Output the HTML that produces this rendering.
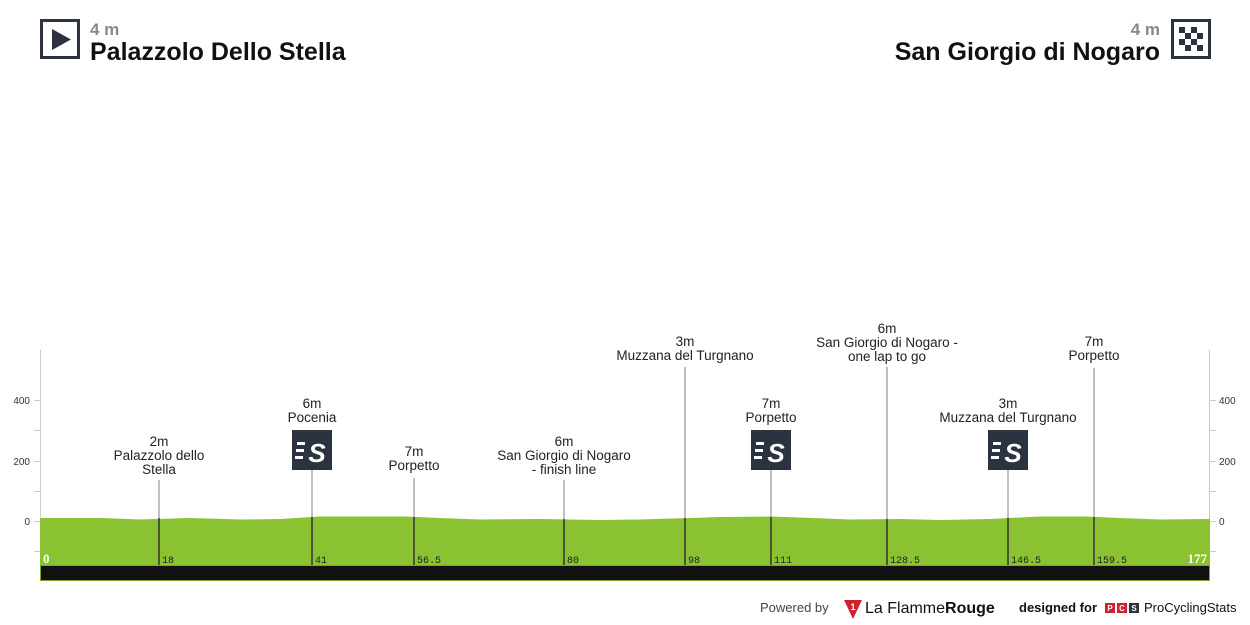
<!DOCTYPE html>
<html><head><meta charset="utf-8"><style>
html,body{margin:0;padding:0;background:#fff;width:1250px;height:625px;overflow:hidden}
svg{display:block;font-family:"Liberation Sans",Arial,sans-serif}
</style></head><body>
<svg width="1250" height="625" viewBox="0 0 1250 625">
<rect x="41.5" y="20.5" width="37" height="37" fill="#fff" stroke="#2b3340" stroke-width="3"/>
<polygon points="52,29 52,50 71,39.5" fill="#2b3340"/>
<text x="90" y="35" font-size="17" font-weight="bold" fill="#888">4 m</text>
<text x="90" y="60" font-size="25" font-weight="bold" fill="#111">Palazzolo Dello Stella</text>
<text x="1160" y="35" font-size="17" font-weight="bold" fill="#888" text-anchor="end">4 m</text>
<text x="1160" y="60" font-size="25" font-weight="bold" fill="#111" text-anchor="end">San Giorgio di Nogaro</text>
<rect x="1172.5" y="20.5" width="37" height="37" fill="#fff" stroke="#2b3340" stroke-width="3"/>
<g fill="#2b3340">
<rect x="1179" y="27" width="6" height="6"/><rect x="1191" y="27" width="6" height="6"/>
<rect x="1185" y="33" width="6" height="6"/><rect x="1197" y="33" width="6" height="6"/>
<rect x="1179" y="39" width="6" height="6"/><rect x="1191" y="39" width="6" height="6"/>
<rect x="1185" y="45" width="6" height="6"/><rect x="1197" y="45" width="6" height="6"/>
</g>
<g stroke="#ccc" stroke-width="1">
<line x1="40.5" y1="350" x2="40.5" y2="565"/>
<line x1="1209.5" y1="350" x2="1209.5" y2="565"/>
<line x1="34" y1="400.5" x2="40" y2="400.5"/><line x1="34" y1="430.5" x2="40" y2="430.5"/>
<line x1="34" y1="461.5" x2="40" y2="461.5"/><line x1="34" y1="491.5" x2="40" y2="491.5"/>
<line x1="34" y1="521.5" x2="40" y2="521.5"/><line x1="34" y1="551.5" x2="40" y2="551.5"/>
<line x1="1210" y1="400.5" x2="1216" y2="400.5"/><line x1="1210" y1="430.5" x2="1216" y2="430.5"/>
<line x1="1210" y1="461.5" x2="1216" y2="461.5"/><line x1="1210" y1="491.5" x2="1216" y2="491.5"/>
<line x1="1210" y1="521.5" x2="1216" y2="521.5"/><line x1="1210" y1="551.5" x2="1216" y2="551.5"/>
</g>
<g font-size="10" fill="#333">
<text x="30" y="404" text-anchor="end">400</text><text x="30" y="465" text-anchor="end">200</text><text x="30" y="525" text-anchor="end">0</text>
<text x="1219" y="404">400</text><text x="1219" y="465">200</text><text x="1219" y="525">0</text>
</g>
<path d="M40,518 L100,518 L140,519.5 L190,518 L240,519.5 L280,519 L320,516.5 L405,516.5 L440,518 L480,519.5 L540,519 L600,520 L640,519.5 L690,518 L720,517 L770,516.5 L800,517.5 L850,519.5 L900,519 L940,520 L990,519 L1040,516.5 L1085,516.5 L1120,518 L1160,519.5 L1210,519 L1210,565 L40,565 Z" fill="#8bc232"/>
<rect x="40" y="565" width="1170" height="16" fill="#111"/>
<rect x="40.5" y="565.5" width="1169" height="15" fill="none" stroke="#7aa92c" stroke-width="1"/>
<g stroke="#aaa" stroke-width="1.5">
<line x1="159" y1="480" x2="159" y2="518"/><line x1="312" y1="470" x2="312" y2="517"/>
<line x1="414" y1="478" x2="414" y2="517"/><line x1="564" y1="480" x2="564" y2="519"/>
<line x1="685" y1="367" x2="685" y2="518"/><line x1="771" y1="470" x2="771" y2="517"/>
<line x1="887" y1="367" x2="887" y2="519"/><line x1="1008" y1="470" x2="1008" y2="518"/>
<line x1="1094" y1="368" x2="1094" y2="517"/>
</g>
<g stroke="#333" stroke-width="1.5">
<line x1="159" y1="518" x2="159" y2="565"/><line x1="312" y1="517" x2="312" y2="565"/>
<line x1="414" y1="517" x2="414" y2="565"/><line x1="564" y1="519" x2="564" y2="565"/>
<line x1="685" y1="518" x2="685" y2="565"/><line x1="771" y1="517" x2="771" y2="565"/>
<line x1="887" y1="519" x2="887" y2="565"/><line x1="1008" y1="518" x2="1008" y2="565"/>
<line x1="1094" y1="517" x2="1094" y2="565"/>
</g>
<g font-family="Liberation Mono,monospace" font-size="10" fill="#222">
<text x="162" y="563">18</text><text x="315" y="563">41</text><text x="417" y="563">56.5</text>
<text x="567" y="563">80</text><text x="688" y="563">98</text><text x="774" y="563">111</text>
<text x="890" y="563">128.5</text><text x="1011" y="563">146.5</text><text x="1097" y="563">159.5</text>
</g>
<text x="43" y="563" font-family="Liberation Serif,serif" font-weight="bold" font-size="13" fill="#fff">0</text>
<text x="1207" y="563" font-family="Liberation Serif,serif" font-weight="bold" font-size="13" fill="#fff" text-anchor="end">177</text>
<g id="s">
<rect x="292" y="430" width="40" height="40" fill="#2b3340"/>
<g fill="#fff"><rect x="297" y="442" width="8" height="3"/><rect x="296" y="449" width="8" height="3"/><rect x="295" y="456" width="8" height="3"/></g>
<text x="317" y="462" font-size="26" font-weight="bold" font-style="italic" fill="#fff" text-anchor="middle">S</text>
</g>
<use href="#s" x="459"/>
<use href="#s" x="696"/>
<g font-size="13.5" fill="#222" text-anchor="middle">
<text x="159" y="446">2m</text><text x="159" y="460">Palazzolo dello</text><text x="159" y="474">Stella</text>
<text x="312" y="408">6m</text><text x="312" y="422">Pocenia</text>
<text x="414" y="456">7m</text><text x="414" y="470">Porpetto</text>
<text x="564" y="446">6m</text><text x="564" y="460">San Giorgio di Nogaro</text><text x="564" y="474">- finish line</text>
<text x="685" y="346">3m</text><text x="685" y="360">Muzzana del Turgnano</text>
<text x="771" y="408">7m</text><text x="771" y="422">Porpetto</text>
<text x="887" y="333">6m</text><text x="887" y="347">San Giorgio di Nogaro -</text><text x="887" y="361">one lap to go</text>
<text x="1008" y="408">3m</text><text x="1008" y="422">Muzzana del Turgnano</text>
<text x="1094" y="346">7m</text><text x="1094" y="360">Porpetto</text>
</g>
<text x="760" y="612" font-size="13" fill="#444">Powered by</text>
<polygon points="844,600 862,600 853,619" fill="#d0202e"/>
<text x="853" y="610" font-size="9" font-weight="bold" fill="#fff" text-anchor="middle">1</text>
<text x="865" y="613" font-size="16" fill="#111">La Flamme<tspan font-weight="bold">Rouge</tspan></text>
<text x="1019" y="612" font-size="13" font-weight="bold" fill="#111">designed for</text>
<rect x="1105" y="603" width="10" height="10" fill="#d0202e"/><rect x="1117" y="603" width="10" height="10" fill="#d0202e"/><rect x="1129" y="603" width="10" height="10" fill="#2b3340"/>
<g font-size="8" font-weight="bold" fill="#fff" text-anchor="middle"><text x="1110" y="611">P</text><text x="1122" y="611">C</text><text x="1134" y="611">S</text></g>
<text x="1144" y="612" font-size="13" fill="#111">ProCyclingStats</text>
</svg>
</body></html>
